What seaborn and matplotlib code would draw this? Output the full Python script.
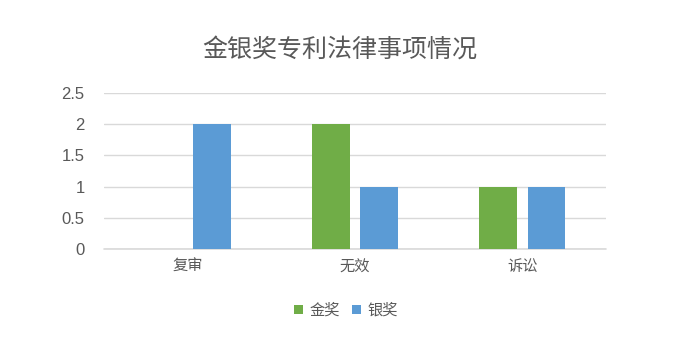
import matplotlib
matplotlib.use("Agg")
import matplotlib.pyplot as plt
import seaborn as sns
import pandas as pd

categories = ["复审", "无效", "诉讼"]
series_names = ["金奖", "银奖"]
gold_values = [0, 2, 1]
silver_values = [2, 1, 1]
yticks = [0, 0.5, 1, 1.5, 2, 2.5]
title = "金银奖专利法律事项情况"

df = pd.DataFrame({
    "category": categories * 2,
    "series": [series_names[0]] * 3 + [series_names[1]] * 3,
    "value": gold_values + silver_values,
})

sns.set_theme(style="white")
plt.rcParams['font.family'] = ['Liberation Sans', 'Noto Sans CJK SC', 'DejaVu Sans']

text_color = "#595959"
grid_color = "#D9D9D9"
fig = plt.figure(figsize=(7, 3.59), dpi=100)
ax = fig.add_axes([0.1486, 0.3064, 0.7171, 0.4345])

sns.barplot(data=df, x="category", y="value", hue="series",
            palette=["#70AD47", "#5B9BD5"], width=0.576, gap=0.22,
            ax=ax, legend=False, saturation=1, errorbar=None, linewidth=0)

ax.set_ylim(0, 2.5)
ax.set_xlim(-0.5, 2.5)
ax.set_yticks(yticks)
ax.set_yticklabels([f"{t:g}" for t in yticks])
ax.yaxis.grid(True, color=grid_color, linewidth=1)
ax.axhline(0, color=grid_color, linewidth=1.2, clip_on=False, zorder=0.5)
ax.set_axisbelow(True)
for s in ax.spines.values():
    s.set_visible(False)
ax.tick_params(axis="x", length=0, labelsize=11, colors=text_color, pad=8)
ax.tick_params(axis="y", length=0, labelsize=12, colors=text_color, pad=14)
ax.set_xlabel("")
ax.set_ylabel("")

fig.text(0.486, 0.862, title, ha="center", va="center", fontsize=18, color=text_color)

from matplotlib.patches import Patch
handles = [Patch(facecolor=c, edgecolor="none") for c in ["#70AD47", "#5B9BD5"]]
leg = fig.legend(handles, series_names, loc="center", bbox_to_anchor=(0.494, 0.135),
                 ncol=2, frameon=False, fontsize=11, handlelength=0.6, handleheight=0.6,
                 handletextpad=0.4, columnspacing=0.8, labelcolor=text_color)

fig.savefig("out.png", dpi=100)
